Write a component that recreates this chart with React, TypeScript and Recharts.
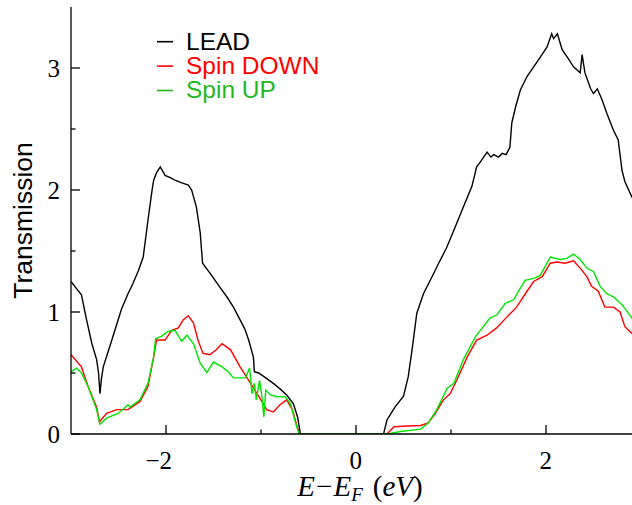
import React from 'react';
import { LineChart, Line, XAxis, YAxis, Legend, Label } from 'recharts';

// Energy (eV) and transmission values for each series
const leadE = [-3.0, -2.95, -2.89, -2.84, -2.78, -2.73, -2.71, -2.695, -2.68, -2.66, -2.57, -2.47, -2.4, -2.35, -2.29, -2.24, -2.19, -2.15, -2.13, -2.1, -2.06, -2.01, -1.95, -1.905, -1.84, -1.765, -1.73, -1.68, -1.64, -1.615, -1.52, -1.43, -1.36, -1.29, -1.22, -1.17, -1.13, -1.08, -1.07, -1.025, -0.95, -0.87, -0.8, -0.73, -0.66, -0.615, -0.585, 0.29, 0.326, 0.41, 0.5, 0.55, 0.59, 0.64, 0.71, 0.82, 0.87, 0.95, 1.03, 1.13, 1.22, 1.27, 1.31, 1.38, 1.42, 1.45, 1.5, 1.54, 1.58, 1.62, 1.64, 1.68, 1.73, 1.8, 1.87, 1.94, 2.01, 2.06, 2.08, 2.12, 2.17, 2.24, 2.29, 2.36, 2.38, 2.41, 2.47, 2.5, 2.54, 2.59, 2.64, 2.71, 2.76, 2.8, 2.83, 2.9, 2.95];
const leadT = [1.25, 1.2, 1.14, 0.95, 0.74, 0.61, 0.5, 0.33, 0.45, 0.55, 0.77, 1.02, 1.15, 1.23, 1.34, 1.45, 1.75, 1.98, 2.08, 2.14, 2.19, 2.12, 2.1, 2.08, 2.06, 2.04, 2.0, 1.86, 1.65, 1.4, 1.3, 1.2, 1.125, 1.04, 0.935, 0.86, 0.77, 0.63, 0.51, 0.5, 0.46, 0.415, 0.37, 0.32, 0.25, 0.14, 0.0, 0.0, 0.115, 0.22, 0.31, 0.47, 0.69, 0.99, 1.15, 1.32, 1.4, 1.52, 1.67, 1.86, 2.03, 2.19, 2.23, 2.31, 2.27, 2.29, 2.27, 2.3, 2.29, 2.35, 2.55, 2.68, 2.82, 2.93, 3.01, 3.09, 3.17, 3.28, 3.24, 3.28, 3.15, 3.07, 3.01, 2.96, 3.11, 2.96, 2.83, 2.79, 2.83, 2.74, 2.63, 2.49, 2.41, 2.16, 2.07, 1.95, 1.88];

const downE = [-3.0, -2.89, -2.82, -2.73, -2.7, -2.625, -2.52, -2.4, -2.275, -2.19, -2.13, -2.1, -2.01, -1.94, -1.87, -1.82, -1.765, -1.71, -1.66, -1.61, -1.54, -1.47, -1.41, -1.32, -1.22, -1.11, -1.025, -0.94, -0.87, -0.8, -0.73, -0.67, -0.62, -0.59, 0.326, 0.4, 0.54, 0.68, 0.76, 0.835, 0.92, 0.99, 1.06, 1.17, 1.27, 1.38, 1.48, 1.59, 1.69, 1.8, 1.87, 1.96, 2.045, 2.115, 2.2, 2.29, 2.36, 2.43, 2.48, 2.55, 2.62, 2.71, 2.78, 2.83, 2.905, 2.95];
const downT = [0.65, 0.55, 0.39, 0.22, 0.1, 0.17, 0.2, 0.2, 0.265, 0.39, 0.63, 0.77, 0.77, 0.85, 0.87, 0.935, 0.97, 0.91, 0.76, 0.66, 0.65, 0.69, 0.74, 0.69, 0.55, 0.415, 0.31, 0.2, 0.18, 0.24, 0.28, 0.2, 0.06, 0.0, 0.0, 0.06, 0.065, 0.07, 0.09, 0.17, 0.28, 0.33, 0.44, 0.63, 0.77, 0.81, 0.87, 0.96, 1.04, 1.17, 1.25, 1.29, 1.4, 1.41, 1.4, 1.42, 1.36, 1.29, 1.21, 1.17, 1.04, 1.04, 1.0, 0.88, 0.825, 0.8];

const upE = [-3.0, -2.94, -2.89, -2.82, -2.73, -2.695, -2.625, -2.5, -2.4, -2.38, -2.275, -2.19, -2.13, -2.11, -2.05, -1.98, -1.905, -1.835, -1.78, -1.71, -1.64, -1.57, -1.5, -1.41, -1.345, -1.29, -1.165, -1.12, -1.095, -1.07, -1.05, -1.015, -0.99, -0.97, -0.95, -0.9, -0.83, -0.745, -0.69, -0.64, -0.6, 0.326, 0.47, 0.68, 0.76, 0.85, 0.96, 1.03, 1.13, 1.26, 1.34, 1.41, 1.48, 1.57, 1.66, 1.73, 1.78, 1.87, 1.94, 2.01, 2.045, 2.15, 2.22, 2.29, 2.36, 2.43, 2.5, 2.57, 2.64, 2.71, 2.8, 2.905, 2.95];
const upT = [0.51, 0.54, 0.5, 0.39, 0.2, 0.08, 0.13, 0.17, 0.24, 0.22, 0.28, 0.415, 0.63, 0.78, 0.8, 0.84, 0.85, 0.76, 0.81, 0.74, 0.58, 0.505, 0.59, 0.55, 0.51, 0.46, 0.46, 0.54, 0.33, 0.415, 0.28, 0.44, 0.305, 0.14, 0.36, 0.32, 0.305, 0.305, 0.25, 0.1, 0.0, 0.0, 0.02, 0.04, 0.09, 0.2, 0.375, 0.415, 0.61, 0.8, 0.88, 0.95, 0.975, 1.07, 1.1, 1.195, 1.26, 1.275, 1.3, 1.4, 1.45, 1.43, 1.44, 1.475, 1.43, 1.36, 1.33, 1.21, 1.15, 1.125, 1.06, 0.95, 0.92];

const xTicks = [-2, -1, 0, 1, 2];
const yTicks = [0, 0.5, 1, 1.5, 2, 2.5, 3];
const seriesNames = ['LEAD', 'Spin DOWN', 'Spin UP'];
const lineColors = ['#000000', '#ff0000', '#00e600'];
const legendColors = ['#000000', '#ff0000', '#22b822'];

const toPoints = (e: number[], t: number[]) => e.map((v, i) => ({ e: v, t: t[i] }));
const leadData = toPoints(leadE, leadT);
const downData = toPoints(downE, downT);
const upData = toPoints(upE, upT);

const SERIF = '"Liberation Serif", "Times New Roman", serif';
const SANS = '"Liberation Sans", Arial, sans-serif';
const fmt = (v: number) => (v < 0 ? '\u2212' + Math.abs(v) : String(v));
const MAJ = 9;
const MIN = 4.5;
const SW = 1.3;

const BottomTick = (p: any) => {
  const { x, y, payload } = p;
  const v = payload.value;
  const major = v % 2 === 0;
  return (
    <g>
      <line x1={x} y1={y} x2={x} y2={y - (major ? MAJ : MIN)} stroke="#000" strokeWidth={SW} />
      {major && (
        <text x={x + 6} y={y + 34.5} textAnchor="end" fontFamily={SERIF} fontSize={25} fill="#000">
          {fmt(v)}
        </text>
      )}
    </g>
  );
};

const TopTick = (p: any) => {
  const { x, y, payload } = p;
  const major = payload.value % 2 === 0;
  return <line x1={x} y1={y} x2={x} y2={y + (major ? MAJ : MIN)} stroke="#000" strokeWidth={SW} />;
};

const LeftTick = (p: any) => {
  const { x, y, payload } = p;
  const v = payload.value;
  const major = Number.isInteger(v);
  return (
    <g>
      <line x1={x} y1={y} x2={x + (major ? MAJ : MIN)} y2={y} stroke="#000" strokeWidth={SW} />
      {major && (
        <text x={x - 11} y={y + 8.5} textAnchor="end" fontFamily={SERIF} fontSize={25} fill="#000">
          {fmt(v)}
        </text>
      )}
    </g>
  );
};

const RightTick = (p: any) => {
  const { x, y, payload } = p;
  const major = Number.isInteger(payload.value);
  return <line x1={x} y1={y} x2={x - (major ? MAJ : MIN)} y2={y} stroke="#000" strokeWidth={SW} />;
};

const renderLegend = () => (
  <svg width={340} height={110} style={{ display: 'block' }}>
    {seriesNames.map((n, i) => (
      <g key={n}>
        <line x1={157} x2={173} y1={41.7 + 24.4 * i} y2={41.7 + 24.4 * i} stroke={legendColors[i]} strokeWidth={1.6} />
        <text x={186} y={49.5 + 24.4 * i} fontFamily={SANS} fontSize={24.5} fill={legendColors[i]}>
          {n}
        </text>
      </g>
    ))}
  </svg>
);

const XLabel = (props: any) => {
  const vb = props.viewBox || { x: 71, y: 434, width: 570, height: 71 };
  const cx = vb.x + vb.width / 2 + 4;
  return (
    <text x={cx} y={vb.y + 62} textAnchor="middle" fontFamily={SERIF} fontSize={29} fill="#000">
      <tspan fontStyle="italic">E</tspan>
      <tspan dx={1}>{'\u2212'}</tspan>
      <tspan fontStyle="italic" dx={1}>E</tspan>
      <tspan fontStyle="italic" fontSize={19} dy={5}>F</tspan>
      <tspan dy={-5} dx={10}>(</tspan>
      <tspan fontStyle="italic">eV</tspan>
      <tspan>)</tspan>
    </text>
  );
};

const YLabel = (props: any) => {
  const vb = props.viewBox || { x: 0, y: 7, width: 71, height: 427 };
  const cx = vb.x + 23;
  const cy = vb.y + vb.height / 2;
  return (
    <text
      x={cx}
      y={cy}
      transform={`rotate(-90 ${cx} ${cy})`}
      textAnchor="middle"
      dominantBaseline="central"
      fontFamily={SANS}
      fontSize={26.5}
      fill="#000"
    >
      Transmission
    </text>
  );
};

export default function App() {
  return (
    <div style={{ position: 'absolute', left: 0, top: 0, width: 632, height: 505, overflow: 'hidden', background: '#fff' }}>
      <LineChart width={700} height={505} margin={{ top: 7, right: 59, left: 0, bottom: 0 }}>
        <XAxis
          xAxisId="b"
          type="number"
          dataKey="e"
          domain={[-3, 3]}
          ticks={xTicks}
          interval={0}
          orientation="bottom"
          height={71}
          tickSize={0}
          tickMargin={0}
          tickLine={false}
          axisLine={{ stroke: '#000', strokeWidth: SW }}
          tick={BottomTick}
          allowDataOverflow
        >
          <Label content={XLabel} />
        </XAxis>
        <XAxis
          xAxisId="t"
          type="number"
          domain={[-3, 3]}
          ticks={xTicks}
          interval={0}
          orientation="top"
          height={0}
          tickSize={0}
          tickMargin={0}
          tickLine={false}
          axisLine={{ stroke: '#000', strokeWidth: SW }}
          tick={TopTick}
          allowDataOverflow
        />
        <YAxis
          yAxisId="l"
          type="number"
          domain={[0, 3.5]}
          ticks={yTicks}
          interval={0}
          orientation="left"
          width={71}
          tickSize={0}
          tickMargin={0}
          tickLine={false}
          axisLine={{ stroke: '#000', strokeWidth: SW }}
          tick={LeftTick}
          allowDataOverflow
        >
          <Label content={YLabel} />
        </YAxis>
        <YAxis
          yAxisId="r"
          type="number"
          domain={[0, 3.5]}
          ticks={yTicks}
          interval={0}
          orientation="right"
          width={0}
          tickSize={0}
          tickMargin={0}
          tickLine={false}
          axisLine={{ stroke: '#000', strokeWidth: SW }}
          tick={RightTick}
          allowDataOverflow
        />
        <Legend
          layout="horizontal"
          verticalAlign="middle"
          align="center"
          wrapperStyle={{ position: 'absolute', left: 0, top: 0, width: 340, height: 110 }}
          content={renderLegend}
        />
        <Line xAxisId="b" yAxisId="l" data={leadData} dataKey="t" name={seriesNames[0]} stroke={lineColors[0]} strokeWidth={1.4} dot={false} isAnimationActive={false} />
        <Line xAxisId="b" yAxisId="l" data={downData} dataKey="t" name={seriesNames[1]} stroke={lineColors[1]} strokeWidth={1.4} dot={false} isAnimationActive={false} />
        <Line xAxisId="b" yAxisId="l" data={upData} dataKey="t" name={seriesNames[2]} stroke={lineColors[2]} strokeWidth={1.4} dot={false} isAnimationActive={false} />
      </LineChart>
    </div>
  );
}
